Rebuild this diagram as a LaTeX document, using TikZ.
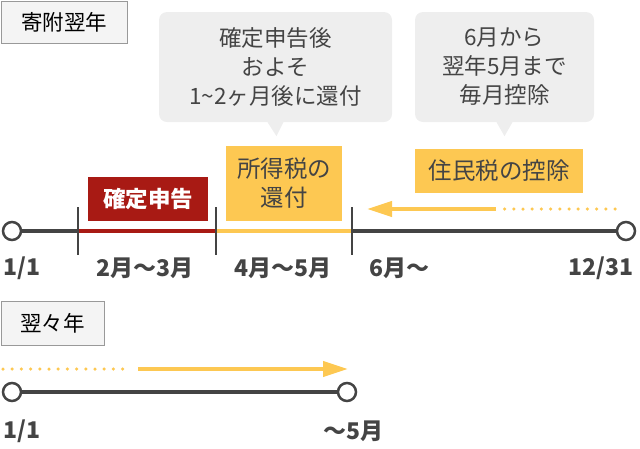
\documentclass[tikz,border=0pt]{standalone}
\usepackage{fontspec}
\setmainfont{Noto Sans CJK JP}
\usetikzlibrary{positioning,calc}
\usetikzlibrary{arrows.meta}
\definecolor{LineGray}{RGB}{68,68,68}
\definecolor{TaxRed}{RGB}{168,26,20}
\definecolor{TaxYellow}{RGB}{253,200,82}
\definecolor{BubbleGray}{RGB}{238,238,238}
\definecolor{TagGray}{RGB}{244,244,244}
\tikzset{
  tag/.style={draw=black!40,fill=TagGray,line width=1pt,inner sep=0pt,
    font=\fontsize{21.5}{24}\selectfont,text=black},
  bubble/.style={fill=BubbleGray,rounded corners=8pt,inner sep=0pt,align=center,
    font=\fontsize{22.5}{29}\selectfont,text=LineGray},
  redbox/.style={fill=TaxRed,inner sep=0pt,font=\bfseries\fontsize{22.5}{24}\selectfont,text=white},
  yelbox/.style={fill=TaxYellow,inner sep=0pt,align=center,
    font=\fontsize{23.5}{29}\selectfont,text=LineGray},
}
\tikzset{axis/.style={draw=LineGray,line width=4pt}, redseg/.style={draw=TaxRed,line width=4pt},
  yelseg/.style={draw=TaxYellow,line width=4pt}, tick/.style={draw=LineGray,line width=1.5pt},
  endpt/.style={circle,draw=LineGray,line width=2.5pt,fill=white,minimum size=18pt,inner sep=0pt},
  datelab/.style={font=\bfseries\fontsize{23}{24}\selectfont,text=LineGray,inner sep=0pt},
  flow/.style={draw=TaxYellow,line width=4pt,-{Triangle[length=25pt,width=15pt]}},
  flowdots/.style={draw=TaxYellow,line width=3.5pt,line cap=round,dash pattern=on 0pt off 9.2pt}}

\begin{document}
\begin{tikzpicture}[x=1pt,y=-1pt]
\useasboundingbox (0,0) rectangle (640,448);
% first year
\node[tag,anchor=north west,minimum width=126,minimum height=42] (year1) at (0.5,0.5) {寄附翌年};
\node[bubble,minimum width=233,minimum height=110] (note1) at (275.5,67) {確定申告後\\およそ\\1\textasciitilde2ヶ月後に還付};
\fill[BubbleGray] ($(note1.south)+(-8,0)$) -- ++(9,14) -- ++(7,-14) -- cycle;
\node[bubble,minimum width=179,minimum height=110] (note2) at (504.5,67) {6月から\\翌年5月まで\\毎月控除};
\fill[BubbleGray] ($(note2.south)+(-8,0)$) -- ++(8,14) -- ++(8,-14) -- cycle;
\node[redbox,minimum width=120,minimum height=44] (filing) at (148,199) {確定申告};
\node[yelbox,minimum width=116,minimum height=75] (refund) at (284,183.5) {所得税の\\還付};
\node[yelbox,minimum width=168,minimum height=44] (resident) at (499,171) {住民税の控除};
\coordinate (d0) at (615,209);
\coordinate (d1) at (502,209);
\coordinate (a0) at (496,209);
\coordinate (a1) at (367,209);
\draw[flowdots] (d0) -- (d1);
\draw[flow] (a0) -- (a1);
\node[endpt] (start1) at (12,231) {};
\node[endpt] (end1) at (626,231) {};
\coordinate (feb) at (78,231);
\coordinate (apr) at (216,231);
\coordinate (jun) at (352,231);
\draw[axis] (start1) -- (feb);
\draw[redseg] (feb) -- (apr);
\draw[yelseg] (apr) -- (jun);
\draw[axis] (jun) -- (end1);
\foreach \m in {feb,apr,jun}
  \draw[tick] ($(\m)+(0,-24)$) -- ($(\m)+(0,24)$);
\node[datelab] (l1) at (22,268) {1/1};
\node[datelab] (l2) at (145,268) {2月～3月};
\node[datelab] (l3) at (283,268) {4月～5月};
\node[datelab] (l4) at (399,268) {6月～};
\node[datelab] (l5) at (601,268) {12/31};
% year after next
\node[tag,anchor=north west,minimum width=103,minimum height=44] (year2) at (0.5,300.5) {翌々年};
\coordinate (e0) at (3,369);
\coordinate (e1) at (130,369);
\coordinate (b0) at (138,369);
\coordinate (b1) at (348,369);
\draw[flowdots] (e0) -- (e1);
\draw[flow] (b0) -- (b1);
\node[endpt] (start2) at (12,392) {};
\node[endpt] (end2) at (347,392) {};
\draw[axis] (start2) -- (end2);
\node[datelab] (l6) at (22,431) {1/1};
\node[datelab] (l7) at (353,431) {～5月};
\end{tikzpicture}
\end{document}
